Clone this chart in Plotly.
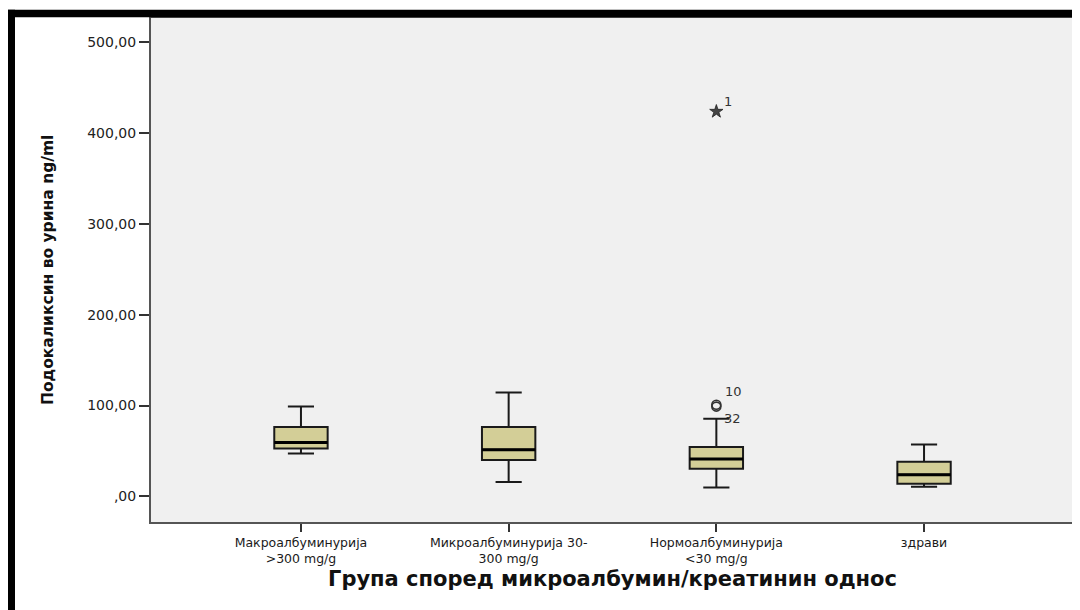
import plotly.graph_objects as go

# ---- data ----
categories = ["Макроалбуминурија<br>>300 mg/g",
              "Микроалбуминурија 30-<br>300 mg/g",
              "Нормоалбуминурија<br><30 mg/g",
              "здрави"]
lower_whisker = [47.3, 15.8, 9.9, 10.7]
q1_values = [52.8, 40.0, 30.5, 14.0]
median_values = [59.4, 51.4, 41.1, 23.9]
q3_values = [76.3, 76.3, 54.3, 38.2]
upper_whisker = [99.0, 114.4, 85.5, 57.2]

outlier_cat = [2, 2]
outlier_val = [100.9, 98.8]
outlier_lbl = ["10", "32"]
extreme_cat = [2]
extreme_val = [423.5]
extreme_lbl = ["1"]

y_tickvals = [0, 100, 200, 300, 400, 500]
y_ticktext = [",00", "100,00", "200,00", "300,00", "400,00", "500,00"]

y_title = "Подокаликсин во урина ng/ml"
x_title = "Група според микроалбумин/креатинин однос"

BOX_W = 0.257
FILL = "#d3ce97"
FONT = "DejaVu Sans"

xs = list(range(len(categories)))

fig = go.Figure()
fig.add_trace(go.Box(
    x=xs, q1=q1_values, median=median_values, q3=q3_values,
    lowerfence=lower_whisker, upperfence=upper_whisker,
    width=BOX_W, whiskerwidth=0.49,
    fillcolor=FILL, line=dict(color="#1a1a1a", width=2),
    boxpoints=False, showlegend=False, hoverinfo="skip",
))

# outliers (open circles)
fig.add_trace(go.Scatter(
    x=outlier_cat, y=outlier_val, mode="markers",
    marker=dict(symbol="circle-open", size=9, color="#333333", line=dict(width=1.6)),
    showlegend=False, hoverinfo="skip",
))
# extreme (star)
fig.add_trace(go.Scatter(
    x=extreme_cat, y=extreme_val, mode="markers",
    marker=dict(symbol="star", size=10, color="#444444", line=dict(width=0.8, color="#222222")),
    showlegend=False, hoverinfo="skip",
))

shapes = []
# thicker median lines
for i, m in enumerate(median_values):
    shapes.append(dict(type="line", xref="x", yref="y",
                       x0=i - BOX_W / 2, x1=i + BOX_W / 2, y0=m, y1=m,
                       line=dict(color="black", width=3)))

# page has an 8px body margin: figure is placed at (8, 8)
OFF = 8
L, T, PW, PH = 151 - OFF, 18.3 - OFF, 923, 504
FW, FH = 1080 - OFF, 610 - OFF

def px(xp):
    return (xp - OFF - L) / PW
def py(yp):
    return (T + PH - (yp - OFF)) / PH

# black frame (left and top) of the original screenshot
shapes.append(dict(type="rect", xref="paper", yref="paper",
                   x0=px(7), x1=px(15), y0=py(620), y1=py(10),
                   fillcolor="black", line=dict(width=0), layer="above"))
shapes.append(dict(type="rect", xref="paper", yref="paper",
                   x0=px(7), x1=px(1075), y0=py(17.5), y1=py(10),
                   fillcolor="black", line=dict(width=0), layer="above"))

annotations = []
# outlier labels
annotations.append(dict(x=outlier_cat[0], y=outlier_val[0], xref="x", yref="y",
                        text=outlier_lbl[0], showarrow=False, xshift=17, yshift=13,
                        font=dict(family=FONT, size=13, color="#333333")))
annotations.append(dict(x=outlier_cat[1], y=outlier_val[1], xref="x", yref="y",
                        text=outlier_lbl[1], showarrow=False, xshift=16, yshift=-12,
                        font=dict(family=FONT, size=13, color="#333333")))
annotations.append(dict(x=extreme_cat[0], y=extreme_val[0], xref="x", yref="y",
                        text=extreme_lbl[0], showarrow=False, xshift=12, yshift=10,
                        font=dict(family=FONT, size=13, color="#333333")))

# axis titles
annotations.append(dict(x=0.5, y=0, xref="paper", yref="paper", text="<b>" + x_title + "</b>",
                        showarrow=False, yanchor="middle", yshift=-57,
                        font=dict(family=FONT, size=21, color="#111111")))
annotations.append(dict(x=0, y=0.5, xref="paper", yref="paper", text="<b>" + y_title + "</b>",
                        showarrow=False, textangle=-90, xanchor="center", xshift=-103,
                        font=dict(family=FONT, size=15.5, color="#111111")))

fig.update_layout(
    width=FW, height=FH,
    margin=dict(l=L, r=FW - L - PW, t=T, b=FH - T - PH, autoexpand=False),
    paper_bgcolor="white", plot_bgcolor="#f0f0f0",
    shapes=shapes, annotations=annotations,
    xaxis=dict(type="linear", range=[-0.722, 3.722], tickvals=xs, ticktext=categories,
               ticks="outside", ticklen=8, tickwidth=2, tickcolor="#333333",
               tickfont=dict(family=FONT, size=12.5, color="#1a1a1a"),
               tickangle=0, ticklabelstandoff=0,
               showgrid=False, zeroline=False,
               showline=True, mirror=True, linecolor="#555555", linewidth=2),
    yaxis=dict(range=[-28.2, 526.4], tickvals=y_tickvals, ticktext=y_ticktext,
               ticks="outside", ticklen=10, tickwidth=2, tickcolor="#333333",
               tickfont=dict(family=FONT, size=14, color="#222222"),
               showgrid=False, zeroline=False,
               showline=True, mirror=True, linecolor="#555555", linewidth=2),
)

fig.write_html("out.html")
